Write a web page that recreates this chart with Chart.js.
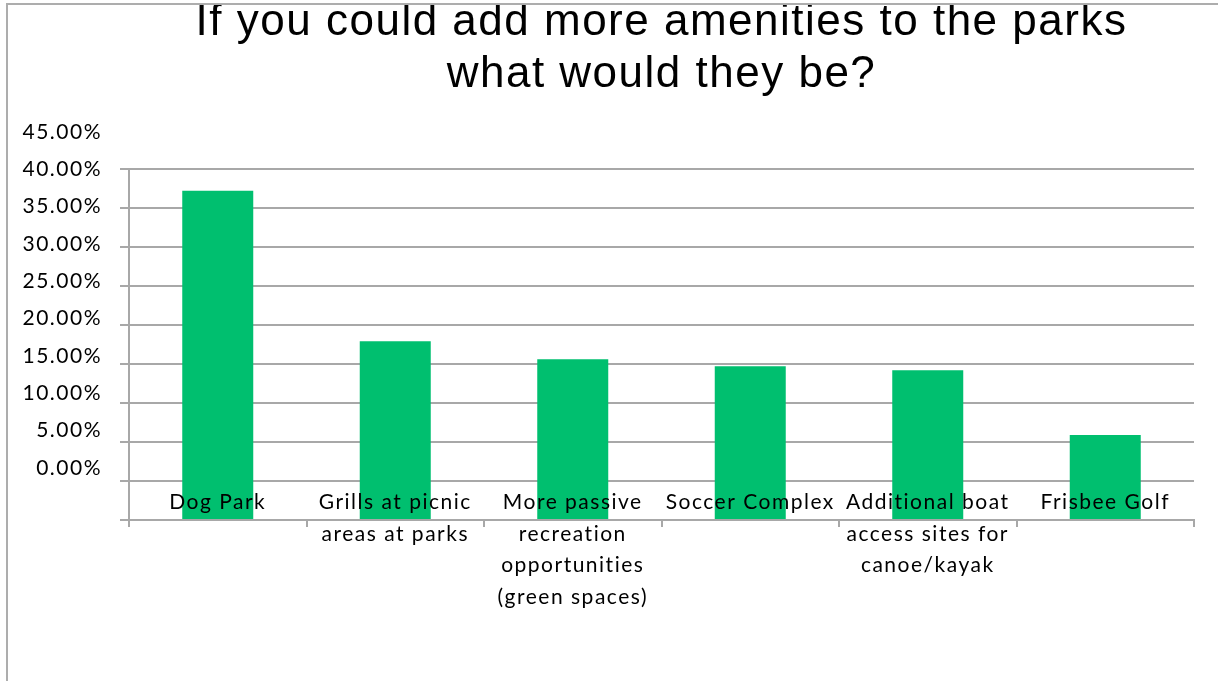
<!DOCTYPE html>
<html lang="en">
<head>
  <meta charset="UTF-8" />
  <title>Park amenities survey</title>
  <script src="https://cdn.jsdelivr.net/npm/chart.js"></script>
  <style>
    html, body { margin: 0; padding: 0; background: #fff; }
    #wrap { position: relative; width: 1218px; height: 681px; overflow: hidden; }
    #frame { position: absolute; left: 6px; top: 3px; right: 0; bottom: 0;
             border-top: 2px solid #adadad; border-left: 2px solid #adadad; pointer-events: none; }
  </style>
</head>
<body>
  <div id="wrap">
    <canvas id="amenityChart" width="1218" height="681"></canvas>
    <div id="frame"></div>
  </div>

  <script>
    const titleLines = ['If you could add more amenities to the parks', 'what would they be?'];

    const categories = [
      'Dog Park',
      ['Grills at picnic', 'areas at parks'],
      ['More passive', 'recreation', 'opportunities', '(green spaces)'],
      'Soccer Complex',
      ['Additional boat', 'access sites for', 'canoe/kayak'],
      'Frisbee Golf'
    ];

    // percent of respondents
    const shares = [37.2, 17.9, 15.6, 14.7, 14.2, 5.9];

    const tickValues = [0, 5, 10, 15, 20, 25, 30, 35, 40, 45];

    const gridGray = '#a8a8a8';
    const labelFont = { family: 'Lato', size: 21, lineHeight: 1.5 };

    // the source renders its labels with wide tracking
    const spacing = {
      id: 'spacing',
      beforeUpdate(chart) { chart.ctx.letterSpacing = '1.5px'; },
      beforeDraw(chart) { chart.ctx.letterSpacing = '1.5px'; }
    };

    new Chart(document.getElementById('amenityChart'), {
      type: 'bar',
      data: {
        labels: categories,
        datasets: [{
          data: shares,
          base: -5,
          backgroundColor: '#00bf6f',
          borderWidth: 0,
          barPercentage: 0.4,
          categoryPercentage: 1
        }]
      },
      plugins: [spacing],
      options: {
        responsive: false,
        animation: false,
        layout: { padding: { left: 0, right: 24, top: 0, bottom: 0 } },
        plugins: {
          legend: { display: false },
          tooltip: { enabled: false },
          title: {
            display: true,
            fullSize: false,
            text: titleLines,
            color: '#000',
            font: { family: 'Liberation Sans', size: 44, weight: 'normal', lineHeight: 1.18 },
            padding: { top: -3, bottom: 68 }
          }
        },
        scales: {
          x: {
            grid: { offset: true, drawOnChartArea: false, tickLength: 7, color: gridGray, lineWidth: 2 },
            border: { color: gridGray, width: 2 },
            // mirrored so the first line sits just above the axis, drawn over the bars like the source
            ticks: { z: 1, color: '#000', font: labelFont, mirror: true, padding: 2, maxRotation: 0, autoSkip: false },
            afterFit(scale) { scale.height = 161; }
          },
          y: {
            min: -5,
            max: 40,
            ticks: { display: false, stepSize: 5 },
            grid: { color: gridGray, lineWidth: 2, tickLength: 9 },
            border: { color: gridGray, width: 2 },
            afterFit(scale) { scale.width = 9; }
          },
          yl: {
            position: 'left',
            weight: 1,
            min: -6.96,
            max: 40.04,
            grid: { display: false, drawTicks: false },
            border: { display: false },
            afterBuildTicks(scale) { scale.ticks = tickValues.map(v => ({ value: v })); },
            ticks: { color: '#000', font: labelFont, padding: 18, callback: v => v.toFixed(2) + '%' },
            afterFit(scale) { scale.width = 120; }
          }
        }
      }
    });
  </script>
</body>
</html>
